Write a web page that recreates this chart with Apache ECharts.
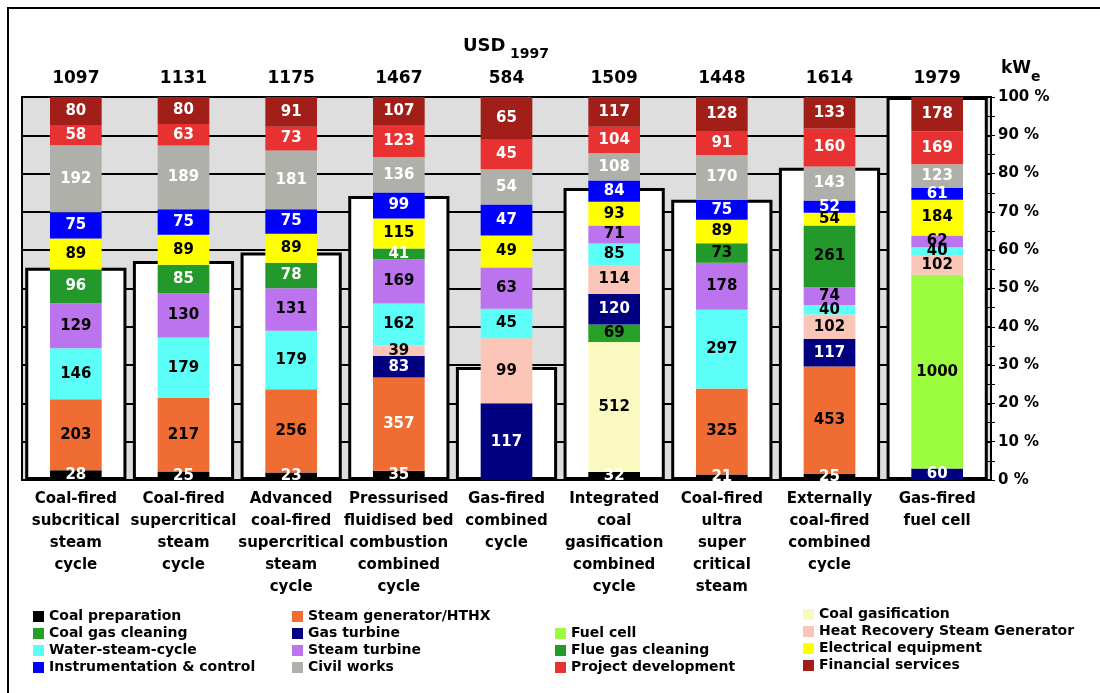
<!DOCTYPE html>
<html>
<head>
    <meta charset="utf-8">
    <title>Investment cost breakdown</title>
    <script src="https://cdn.jsdelivr.net/npm/echarts@6/dist/echarts.min.js"></script>
</head>
<body style="margin:0;background:#fff;">
    <div id="main" style="width:1100px;height:693px;"></div>
    <script type="text/javascript">

        // plant types (bottom axis)
        var plants = [
            'Coal-fired\nsubcritical\nsteam\ncycle',
            'Coal-fired\nsupercritical\nsteam\ncycle',
            'Advanced\ncoal-fired\nsupercritical\nsteam\ncycle',
            'Pressurised\nfluidised bed\ncombustion\ncombined\ncycle',
            'Gas-fired\ncombined\ncycle',
            'Integrated\ncoal\ngasification\ncombined\ncycle',
            'Coal-fired\nultra\nsuper\ncritical\nsteam',
            'Externally\ncoal-fired\ncombined\ncycle',
            'Gas-fired\nfuel cell'
        ];
        // total cost, USD1997 per kWe (top axis)
        var totals = [1097, 1131, 1175, 1467, 584, 1509, 1448, 1614, 1979];

        // cost components, bottom of the stack first
        var coalPreparation = [28, 25, 23, 35, null, 32, 21, 25, null];
        var steamGenerator = [203, 217, 256, 357, null, null, 325, 453, null];
        var coalGasification = [null, null, null, null, null, 512, null, null, null];
        var coalGasCleaning = [null, null, null, null, null, 69, null, null, null];
        var gasTurbine = [null, null, null, 83, 117, 120, null, 117, 60];
        var fuelCell = [null, null, null, null, null, null, null, null, 1000];
        var hrsg = [null, null, null, 39, 99, 114, null, 102, 102];
        var waterSteamCycle = [146, 179, 179, 162, 45, 85, 297, 40, 40];
        var steamTurbine = [129, 130, 131, 169, 63, 71, 178, 74, 62];
        var flueGasCleaning = [96, 85, 78, 41, null, null, 73, 261, null];
        var electrical = [89, 89, 89, 115, 49, 93, 89, 54, 184];
        var instrumentation = [75, 75, 75, 99, 47, 84, 75, 52, 61];
        var civilWorks = [192, 189, 181, 136, 54, 108, 170, 143, 123];
        var projectDevelopment = [58, 63, 73, 123, 45, 104, 91, 160, 169];
        var financialServices = [80, 80, 91, 107, 65, 117, 128, 133, 178];

        var FONT = 'DejaVu Sans';

        var components = [
            { name: 'Coal preparation', data: coalPreparation, color: '#000000', label: '#fff' },
            { name: 'Steam generator/HTHX', data: steamGenerator, color: '#ef6c33', label: '#000', white: [3] },
            { name: 'Coal gasification', data: coalGasification, color: '#fafac0', label: '#000' },
            { name: 'Coal gas cleaning', data: coalGasCleaning, color: '#26a026', label: '#000' },
            { name: 'Gas turbine', data: gasTurbine, color: '#000080', label: '#fff' },
            { name: 'Fuel cell', data: fuelCell, color: '#9cfc40', label: '#000' },
            { name: 'Heat Recovery Steam Generator', data: hrsg, color: '#fbc6b8', label: '#000' },
            { name: 'Water-steam-cycle', data: waterSteamCycle, color: '#5cfff8', label: '#000' },
            { name: 'Steam turbine', data: steamTurbine, color: '#bb74ee', label: '#000' },
            { name: 'Flue gas cleaning', data: flueGasCleaning, color: '#22992a', label: '#000', white: [0, 1, 2, 3] },
            { name: 'Electrical equipment', data: electrical, color: '#ffff00', label: '#000' },
            { name: 'Instrumentation & control', data: instrumentation, color: '#0000ff', label: '#fff' },
            { name: 'Civil works', data: civilWorks, color: '#b0b0aa', label: '#fff' },
            { name: 'Project development', data: projectDevelopment, color: '#e83232', label: '#fff' },
            { name: 'Financial services', data: financialServices, color: '#a21f19', label: '#fff' }
        ];

        // column sums, so each stack fills 100 %
        var sums = plants.map(function (p, i) {
            var s = 0;
            components.forEach(function (c) { s += c.data[i] || 0; });
            return s;
        });
        var maxTotal = Math.max.apply(null, totals);

        var series = [{
            name: 'total',
            type: 'bar',
            xAxisIndex: 1,
            barWidth: '94%',
            z: 2,
            silent: true,
            itemStyle: { color: '#fff', borderColor: '#000', borderWidth: 3 },
            data: totals.map(function (t) { return t / maxTotal * 100; })
        }];

        components.forEach(function (c) {
            series.push({
                name: c.name,
                type: 'bar',
                stack: 'cost',
                xAxisIndex: 0,
                barWidth: '48%',
                z: 3,
                itemStyle: { color: c.color },
                data: c.data.map(function (v, i) {
                    if (v == null) return null;
                    var item = { value: v / sums[i] * 100, raw: v };
                    if (c.white && c.white.indexOf(i) >= 0) item.label = { color: '#fff' };
                    return item;
                }),
                label: {
                    show: true,
                    position: 'inside',
                    color: c.label,
                    fontFamily: FONT,
                    fontWeight: 'bold',
                    fontSize: 15,
                    formatter: function (p) { return p.data ? p.data.raw : ''; }
                }
            });
        });

        function legendCol(left, top, names) {
            return {
                orient: 'vertical',
                left: left,
                top: top,
                padding: 0,
                itemGap: 2,
                itemWidth: 11,
                itemHeight: 11,
                icon: 'rect',
                selectedMode: false,
                textStyle: { fontFamily: FONT, fontWeight: 'bold', fontSize: 14, lineHeight: 15, color: '#000' },
                data: names
            };
        }

        var chart = echarts.init(document.getElementById('main'));
        chart.setOption({
            animation: false,
            backgroundColor: '#fff',
            grid: {
                left: 22, right: 109, top: 97, bottom: 213,
                show: true,
                backgroundColor: '#dedede',
                borderColor: '#000',
                borderWidth: 2
            },
            legend: [
                legendCol(33, 609, ['Coal preparation', 'Coal gas cleaning', 'Water-steam-cycle', 'Instrumentation & control']),
                legendCol(292, 609, ['Steam generator/HTHX', 'Gas turbine', 'Steam turbine', 'Civil works']),
                legendCol(555, 626, ['Fuel cell', 'Flue gas cleaning', 'Project development']),
                legendCol(803, 607, ['Coal gasification', 'Heat Recovery Steam Generator', 'Electrical equipment', 'Financial services'])
            ],
            xAxis: [{
                type: 'category',
                position: 'bottom',
                data: plants,
                axisLine: { lineStyle: { color: '#000', width: 2 } },
                axisTick: { length: 6, lineStyle: { color: '#000', width: 1 } },
                axisLabel: {
                    interval: 0, margin: 8, color: '#000',
                    fontFamily: FONT, fontWeight: 'bold', fontSize: 15, lineHeight: 22
                }
            }, {
                type: 'category',
                position: 'top',
                data: totals.map(String),
                axisLine: { lineStyle: { color: '#000', width: 2 } },
                axisTick: { length: 4, lineStyle: { color: '#000', width: 1 } },
                axisLabel: {
                    interval: 0, margin: 10, color: '#000',
                    fontFamily: FONT, fontWeight: 'bold', fontSize: 17
                }
            }],
            yAxis: [{
                type: 'value',
                position: 'right',
                min: 0, max: 100, interval: 10,
                axisLine: { show: true, lineStyle: { color: '#000', width: 2 } },
                axisTick: { show: true, length: 4, lineStyle: { color: '#000' } },
                minorTick: { show: true, splitNumber: 2, length: 4, lineStyle: { color: '#000' } },
                splitLine: { show: true, lineStyle: { color: '#000', width: 2 } },
                axisLabel: {
                    margin: 7, color: '#000', fontFamily: FONT, fontWeight: 'bold', fontSize: 15,
                    formatter: '{value} %'
                }
            }, {
                type: 'value',
                position: 'right',
                min: 0, max: 100, interval: 10,
                axisLine: { show: false },
                axisTick: { show: true, inside: true, length: 4, lineStyle: { color: '#000' } },
                minorTick: { show: true, splitNumber: 2, length: 4, lineStyle: { color: '#000' } },
                splitLine: { show: false },
                axisLabel: { show: false }
            }],
            graphic: [
                { type: 'rect', shape: { x: 8, y: 8, width: 1200, height: 800 }, style: { fill: 'none', stroke: '#000', lineWidth: 2 } },
                { type: 'text', left: 463, top: 37, style: { text: 'USD', font: 'bold 18px "DejaVu Sans"', fill: '#000' } },
                { type: 'text', left: 510, top: 47, style: { text: '1997', font: 'bold 14px "DejaVu Sans"', fill: '#000' } },
                { type: 'text', left: 1001, top: 60, style: { text: 'kW', font: 'bold 17px "DejaVu Sans"', fill: '#000' } },
                { type: 'text', left: 1031, top: 70, style: { text: 'e', font: 'bold 14px "DejaVu Sans"', fill: '#000' } }
            ],
            series: series
        });

    </script>
</body>
</html>
